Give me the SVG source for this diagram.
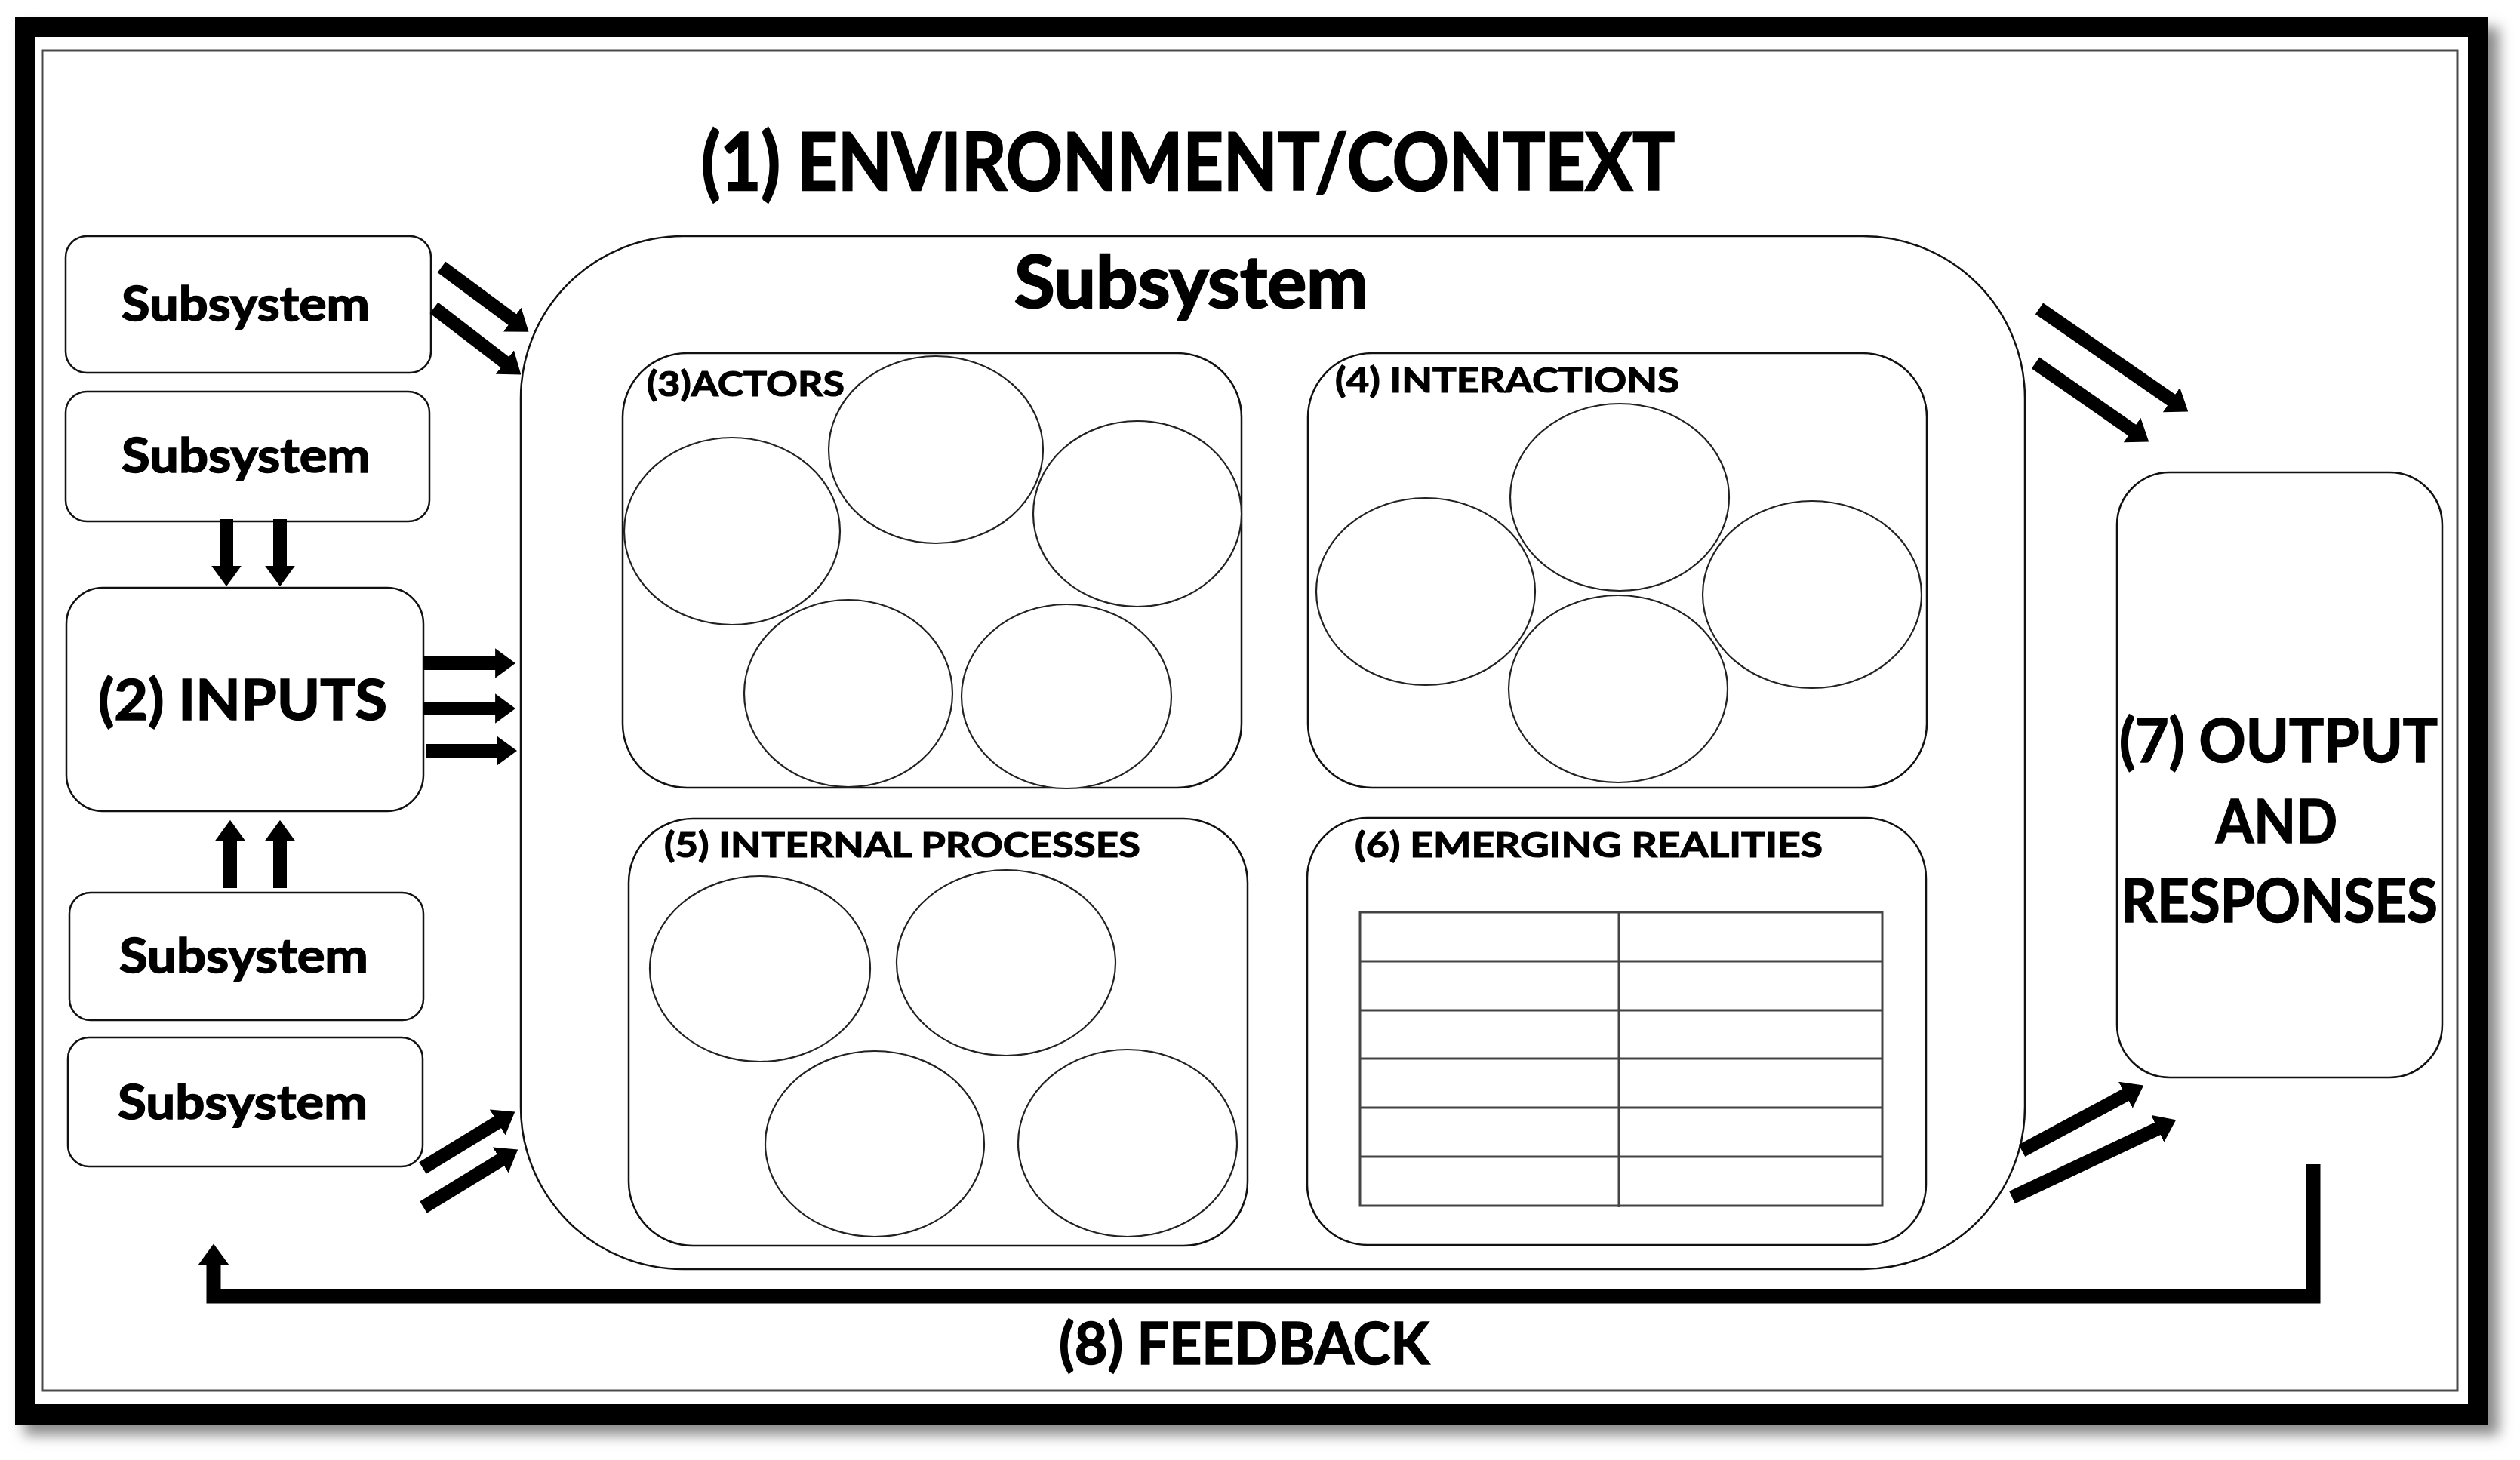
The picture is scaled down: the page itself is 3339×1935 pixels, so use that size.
<svg xmlns="http://www.w3.org/2000/svg" width="3339" height="1935" viewBox="0 0 3339 1935">
  <defs>
    <style>
      text { font-family: "Lato", "Open Sans", "Liberation Sans", sans-serif; font-weight: 700; fill: #000; stroke: #000; stroke-width: 1.6; }
      .big { stroke-width: 2.4; }
      .box { fill: #fff; stroke: #111; stroke-width: 2.5; }
      .ell { fill: #fff; stroke: #222; stroke-width: 2.2; }
      .tbl { stroke: #444; stroke-width: 3; fill: none; }
      .arr { stroke: #000; stroke-width: 18; fill: none; marker-end: url(#ah); }
      .fb { stroke: #000; stroke-width: 19; fill: none; stroke-linejoin: miter; }
      .sub { font-size: 63px; }
      .lbl { font-size: 46px; stroke-width: 1.2; }
      .out { font-size: 80px; }
    </style>
    <marker id="ah" viewBox="0 -1.1 1.5 2.2" refX="0.05" refY="0" markerWidth="1.5" markerHeight="2.2" orient="auto" markerUnits="strokeWidth">
      <path d="M0,-1.1 L1.5,0 L0,1.1 z" fill="#000"/>
    </marker>
    <filter id="shadow" x="-5%" y="-5%" width="110%" height="110%">
      <feGaussianBlur stdDeviation="9"/>
    </filter>
  </defs>

  <rect x="0" y="0" width="3339" height="1935" fill="#fff"/>

  <!-- outer frame with shadow -->
  <g id="frame">
    <rect x="32" y="36" width="3279" height="1866" fill="#8a8a8a" filter="url(#shadow)"/>
    <rect x="33.5" y="35.5" width="3250" height="1839" fill="#fff" stroke="#000" stroke-width="27"/>
    <rect x="56" y="67" width="3200" height="1776" fill="none" stroke="#4a4a4a" stroke-width="3"/>
  </g>

  <g id="environment-title">
    <text class="big" x="929" y="252" font-size="105" textLength="1290" lengthAdjust="spacingAndGlyphs">(1) ENVIRONMENT/CONTEXT</text>
  </g>

  <!-- main subsystem -->
  <g id="main-subsystem">
    <rect class="box" x="690" y="313" width="1993" height="1369" rx="215" ry="215"/>
    <text class="big" x="1344" y="408" font-size="95" textLength="469" lengthAdjust="spacingAndGlyphs">Subsystem</text>
  </g>

  <g id="actors">
    <rect class="box" x="825" y="468" width="820" height="576" rx="85" ry="85"/>
    <ellipse class="ell" cx="970" cy="704" rx="143" ry="124"/>
    <ellipse class="ell" cx="1240" cy="596" rx="142" ry="124"/>
    <ellipse class="ell" cx="1507" cy="681" rx="138" ry="123"/>
    <ellipse class="ell" cx="1124" cy="919" rx="138" ry="124"/>
    <ellipse class="ell" cx="1413" cy="923" rx="139" ry="122"/>
    <text class="lbl" x="857" y="525" textLength="262" lengthAdjust="spacingAndGlyphs">(3)ACTORS</text>
  </g>

  <g id="interactions">
    <rect class="box" x="1733" y="468" width="820" height="576" rx="85" ry="85"/>
    <ellipse class="ell" cx="2146" cy="659" rx="145" ry="124"/>
    <ellipse class="ell" cx="1889" cy="784" rx="145" ry="124"/>
    <ellipse class="ell" cx="2401" cy="788" rx="145" ry="124"/>
    <ellipse class="ell" cx="2144" cy="913" rx="145" ry="124"/>
    <text class="lbl" x="1769" y="520" textLength="456" lengthAdjust="spacingAndGlyphs">(4) INTERACTIONS</text>
  </g>

  <g id="internal-processes">
    <rect class="box" x="833" y="1085" width="820" height="566" rx="85" ry="85"/>
    <ellipse class="ell" cx="1007" cy="1284" rx="146" ry="123"/>
    <ellipse class="ell" cx="1333" cy="1276" rx="145" ry="123"/>
    <ellipse class="ell" cx="1159" cy="1516" rx="145" ry="123"/>
    <ellipse class="ell" cx="1494" cy="1515" rx="145" ry="124"/>
    <text class="lbl" x="880" y="1136" textLength="631" lengthAdjust="spacingAndGlyphs">(5) INTERNAL PROCESSES</text>
  </g>

  <g id="emerging-realities">
    <rect class="box" x="1732" y="1084" width="820" height="566" rx="80" ry="80"/>
    <g class="tbl">
      <rect x="1802" y="1209" width="692" height="389"/>
      <line x1="2145" y1="1209" x2="2145" y2="1600"/>
      <line x1="1802" y1="1274" x2="2494" y2="1274"/>
      <line x1="1802" y1="1339" x2="2494" y2="1339"/>
      <line x1="1802" y1="1403" x2="2494" y2="1403"/>
      <line x1="1802" y1="1468" x2="2494" y2="1468"/>
      <line x1="1802" y1="1533" x2="2494" y2="1533"/>
    </g>
    <text class="lbl" x="1795" y="1136" textLength="620" lengthAdjust="spacingAndGlyphs">(6) EMERGING REALITIES</text>
  </g>

  <!-- left subsystems -->
  <g id="subsystem-1">
    <rect class="box" x="87" y="313" width="484" height="181" rx="28" ry="28"/>
    <text class="sub" x="161" y="425" textLength="329" lengthAdjust="spacingAndGlyphs">Subsystem</text>
  </g>
  <g id="subsystem-2">
    <rect class="box" x="87" y="519" width="482" height="172" rx="28" ry="28"/>
    <text class="sub" x="161" y="626" textLength="330" lengthAdjust="spacingAndGlyphs">Subsystem</text>
  </g>
  <g id="inputs">
    <rect class="box" x="88" y="779" width="473" height="296" rx="48" ry="48"/>
    <text x="130" y="954" font-size="74" textLength="383" lengthAdjust="spacingAndGlyphs">(2) INPUTS</text>
  </g>
  <g id="subsystem-3">
    <rect class="box" x="92" y="1183" width="469" height="169" rx="28" ry="28"/>
    <text class="sub" x="158" y="1289" textLength="330" lengthAdjust="spacingAndGlyphs">Subsystem</text>
  </g>
  <g id="subsystem-4">
    <rect class="box" x="90" y="1375" width="470" height="171" rx="28" ry="28"/>
    <text class="sub" x="156" y="1483" textLength="331" lengthAdjust="spacingAndGlyphs">Subsystem</text>
  </g>

  <!-- output -->
  <g id="output-responses">
    <rect class="box" x="2805" y="626" width="431" height="802" rx="70" ry="70"/>
    <text class="out" x="2808" y="1010" textLength="422" lengthAdjust="spacingAndGlyphs">(7) OUTPUT</text>
    <text class="out" x="2936" y="1117" textLength="161" lengthAdjust="spacingAndGlyphs">AND</text>
    <text class="out" x="2810" y="1222" textLength="420" lengthAdjust="spacingAndGlyphs">RESPONSES</text>
  </g>

  <g id="feedback-label">
    <text x="1403" y="1808" font-size="77" textLength="491" lengthAdjust="spacingAndGlyphs">(8) FEEDBACK</text>
  </g>

  <!-- connectors -->
  <g id="connectors">
    <line class="arr" x1="585" y1="354" x2="679.5" y2="424.1"/>
    <line class="arr" x1="575" y1="408" x2="669.6" y2="480.6"/>
    <line class="arr" x1="300" y1="688" x2="300" y2="751"/>
    <line class="arr" x1="371" y1="688" x2="371" y2="751"/>
    <line class="arr" x1="561" y1="879" x2="657" y2="879"/>
    <line class="arr" x1="561" y1="939" x2="657" y2="939"/>
    <line class="arr" x1="564" y1="995" x2="659" y2="995"/>
    <line class="arr" x1="305" y1="1177" x2="305" y2="1113"/>
    <line class="arr" x1="371" y1="1177" x2="371" y2="1113"/>
    <line class="arr" x1="560" y1="1548" x2="660" y2="1487"/>
    <line class="arr" x1="561" y1="1600" x2="664" y2="1537"/>
    <line class="arr" x1="2702" y1="409" x2="2877.8" y2="530.6"/>
    <line class="arr" x1="2697" y1="481" x2="2825.8" y2="570.6"/>
    <line class="arr" x1="2679" y1="1525" x2="2817.2" y2="1450.8"/>
    <line class="arr" x1="2666" y1="1587" x2="2859.6" y2="1495.5"/>
    <polyline class="fb" points="3065,1543 3065,1718 283,1718 283,1676" marker-end="url(#ah)"/>
  </g>
</svg>
